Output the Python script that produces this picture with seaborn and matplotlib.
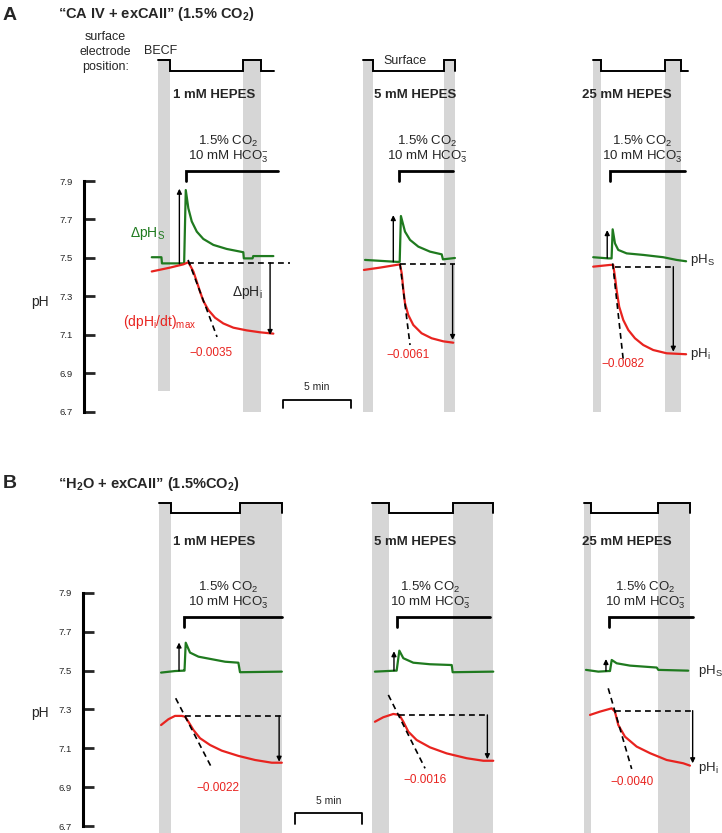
import seaborn as sns
import matplotlib.pyplot as plt

sns.set_style('white')
plt.rcParams['font.family'] = ['Liberation Sans', 'DejaVu Sans']
plt.rcParams['mathtext.fontset'] = 'custom'
plt.rcParams['mathtext.rm'] = 'Liberation Sans'
plt.rcParams['mathtext.it'] = 'Liberation Sans:italic'
plt.rcParams['mathtext.bf'] = 'Liberation Sans:bold'

GREEN = '#1f7a1f'
RED = '#e8231f'
GREY = '#d6d6d6'

hepes = ['1 mM HEPES', '5 mM HEPES', '25 mM HEPES']
ph_ticks = [6.7, 6.9, 7.1, 7.3, 7.5, 7.7, 7.9]
scale_min = 5

# ---------------- panel A: "CA IV + exCAII" ----------------
# times in min from the first grey bar of each recording
a_rates = ['\u22120.0035', '\u22120.0061', '\u22120.0082']
a_bars = [[(0, 0.88), (6.25, 7.57)], [(0, 0.74), (5.96, 6.76)], [(0, 0.59), (5.29, 6.47)]]
a_elec_end = [8.53, 6.76, 6.99]
a_co2_on = [2.06, 2.65, 1.25]
a_co2_off = [8.82, 6.62, 6.76]
a_phs_t = [[-0.46, 0.25, 0.29, 1.92, 2.04, 2.23, 2.48, 2.85, 3.33, 4.07, 5.05, 6.27, 6.31, 6.95, 7.0, 8.48],
           [0.15, 2.48, 2.70, 2.79, 3.09, 3.46, 4.07, 4.93, 5.79, 5.88, 6.76],
           [0.02, 1.13, 1.37, 1.45, 1.62, 1.86, 2.48, 3.70, 5.17, 6.15, 6.85]]
a_phs = [[7.504, 7.504, 7.472, 7.472, 7.853, 7.758, 7.69, 7.637, 7.599, 7.568, 7.547, 7.53, 7.498, 7.498, 7.51, 7.51],
         [7.49, 7.48, 7.48, 7.718, 7.637, 7.594, 7.559, 7.533, 7.519, 7.493, 7.50],
         [7.504, 7.498, 7.498, 7.649, 7.576, 7.542, 7.524, 7.516, 7.504, 7.49, 7.483]]
a_phi_t = [[-0.46, 0.88, 1.86, 2.23, 2.60, 2.85, 3.09, 3.33, 3.70, 4.19, 4.80, 5.54, 6.52, 7.50, 8.48],
           [0.07, 1.25, 2.72, 2.85, 2.97, 3.09, 3.33, 3.70, 4.31, 5.05, 5.91, 6.64],
           [0.02, 1.25, 1.49, 1.62, 1.74, 1.93, 2.23, 2.60, 3.09, 3.70, 4.43, 5.42, 6.85]]
a_phi = [[7.43, 7.45, 7.467, 7.478, 7.43, 7.377, 7.325, 7.277, 7.23, 7.19, 7.16, 7.138, 7.124, 7.114, 7.107],
         [7.438, 7.45, 7.467, 7.42, 7.334, 7.265, 7.204, 7.152, 7.109, 7.083, 7.067, 7.06],
         [7.455, 7.464, 7.464, 7.403, 7.334, 7.247, 7.178, 7.126, 7.083, 7.048, 7.022, 7.005, 7.0]]
a_base = [(2.21, 9.70, 7.475), (2.72, 6.76, 7.467), (1.62, 5.91, 7.455)]
a_slope = [((2.21, 7.49), (4.34, 7.09)), ((2.72, 7.47), (3.46, 7.048)), ((1.45, 7.472), (2.23, 6.97))]
a_dphs = [(1.57, 7.47, 7.86), (2.23, 7.48, 7.723), (1.05, 7.50, 7.645)]
a_dphi = [(8.24, 7.475, 7.10), (6.59, 7.467, 7.074), (5.91, 7.455, 7.013)]

# ---------------- panel B: "H2O + exCAII" ----------------
b_rates = ['\u22120.0022', '\u22120.0016', '\u22120.0040']
b_bars = [[(0, 0.90), (6.04, 9.18)], [(0, 1.27), (6.04, 9.03)], [(0, 0.52), (5.52, 7.91)]]
b_elec_end = [9.18, 9.03, 7.91]
b_co2_on = [1.87, 1.87, 1.87]
b_co2_off = [9.18, 8.81, 8.13]
b_phs_t = [[0.15, 1.19, 1.82, 1.90, 1.99, 2.31, 2.94, 3.93, 4.93, 5.92, 6.04, 9.16],
           [0.22, 1.72, 1.84, 2.04, 2.34, 3.08, 4.33, 5.95, 6.02, 9.05],
           [0.15, 1.07, 1.81, 1.94, 2.07, 2.44, 3.43, 5.43, 5.55, 7.78]]
b_phs = [[7.49, 7.498, 7.50, 7.50, 7.644, 7.593, 7.572, 7.559, 7.546, 7.541, 7.492, 7.495],
         [7.495, 7.50, 7.50, 7.603, 7.564, 7.541, 7.533, 7.529, 7.492, 7.495],
         [7.504, 7.495, 7.498, 7.498, 7.555, 7.538, 7.526, 7.516, 7.504, 7.50]]
b_phi_t = [[0.15, 0.70, 1.19, 1.69, 1.94, 2.19, 2.56, 3.06, 3.81, 4.68, 5.92, 7.16, 8.41, 9.16],
           [0.22, 0.84, 1.59, 2.04, 2.34, 2.71, 3.33, 4.33, 5.57, 7.07, 8.31, 9.05],
           [0.45, 1.19, 2.07, 2.31, 2.56, 3.06, 3.93, 4.93, 6.17, 7.41, 7.91]]
b_phi = [[7.22, 7.25, 7.267, 7.267, 7.263, 7.237, 7.195, 7.152, 7.117, 7.088, 7.061, 7.04, 7.026, 7.026],
         [7.237, 7.26, 7.277, 7.272, 7.237, 7.186, 7.143, 7.105, 7.074, 7.049, 7.036, 7.036],
         [7.272, 7.289, 7.306, 7.289, 7.22, 7.16, 7.109, 7.075, 7.04, 7.023, 7.011]]
b_base = [(1.94, 9.18, 7.267), (2.04, 8.73, 7.272), (2.31, 8.28, 7.294)]
b_slope = [((1.24, 7.358), (3.88, 7.006)), ((1.22, 7.375), (3.96, 6.997)), ((1.81, 7.409), (3.56, 6.994))]
b_dphs = [(1.49, 7.50, 7.645), (1.64, 7.50, 7.60), (1.64, 7.498, 7.56)]
b_dphi = [(8.96, 7.267, 7.031), (8.61, 7.272, 7.044), (8.11, 7.294, 7.023)]

# ---------------- layout ----------------
fig = plt.figure(figsize=(7.22, 8.33), dpi=100)

panels = [
    dict(rect=[0, 1 - 420 / 833, 1, 420 / 833], xlim=(0, 53.09), ylim=(6.6584, 8.8403),
         off=[11.62, 26.69, 43.60], bars=a_bars, bar_bottom=[[6.81, 6.7], [6.7, 6.7], [6.7, 6.7]],
         top=8.529, elec_lo=8.47, br_hi=7.952, br_lo=7.90, hep_y=8.347, co2_y=(8.103, 8.025),
         hep_x=[4.12, 3.82, 2.5], co2_x=[5.15, 4.71, 3.60], elec_end=a_elec_end,
         co2_on=a_co2_on, co2_off=a_co2_off, phs_t=a_phs_t, phs=a_phs, phi_t=a_phi_t, phi=a_phi,
         base=a_base, slope=a_slope, dphs=a_dphs, dphi=a_dphi, rates=a_rates,
         rate_xy=[(3.90, 7.007), (3.31, 6.996), (2.21, 6.95)],
         spine_x=6.18, ph_lab=(2.94, 7.27), scale=(20.81, 6.762, 6.72, 6.83),
         lab_x=50.74, phs_lab=7.49, phi_lab=7.0),
    dict(rect=[0, 0, 1, 413 / 833], xlim=(0, 53.88), ylim=(6.664, 8.7908),
         off=[11.87, 27.76, 43.58], bars=b_bars, bar_bottom=[[6.664, 6.664]] * 3,
         top=8.363, elec_lo=8.311, br_hi=7.776, br_lo=7.725, hep_y=8.163, co2_y=(7.926, 7.849),
         hep_x=[4.10, 3.21, 3.21], co2_x=[5.15, 4.33, 4.55], elec_end=b_elec_end,
         co2_on=b_co2_on, co2_off=b_co2_off, phs_t=b_phs_t, phs=b_phs, phi_t=b_phi_t, phi=b_phi,
         base=b_base, slope=b_slope, dphs=b_dphs, dphi=b_dphi, rates=b_rates,
         rate_xy=[(4.40, 6.896), (3.96, 6.937), (3.58, 6.927)],
         spine_x=6.19, ph_lab=(2.99, 7.28), scale=(22.01, 6.767, 6.71, 6.83),
         lab_x=52.09, phs_lab=7.50, phi_lab=7.0),
]

axes = []
for p in panels:
    ax = fig.add_axes(p['rect'])
    ax.set_xlim(*p['xlim'])
    ax.set_ylim(*p['ylim'])
    ax.patch.set_alpha(0)
    for s in ['top', 'right', 'bottom']:
        ax.spines[s].set_visible(False)
    ax.spines['left'].set_position(('data', p['spine_x']))
    ax.spines['left'].set_bounds(6.7, 7.9)
    ax.spines['left'].set_linewidth(2.2)
    ax.spines['left'].set_color('black')
    ax.set_xticks([])
    ax.set_yticks(ph_ticks)
    ax.set_yticklabels([f'{v:.1f}' for v in ph_ticks])
    ax.tick_params(axis='y', direction='in', length=8, width=2, labelsize=6.8, pad=8, left=True)
    ax.text(*p['ph_lab'], 'pH', fontsize=10, ha='center', va='center')

    for i in range(3):
        o = p['off'][i]
        # grey bars (electrode at bulk ECF)
        for (b0, b1), bb in zip(p['bars'][i], p['bar_bottom'][i]):
            ax.fill_between([o + b0, o + b1], bb, p['top'], color=GREY, lw=0, zorder=0)
        # electrode position line
        (b0, b1), (b2, b3) = p['bars'][i]
        ex = [o + b0, o + b1, o + b1, o + b2, o + b2, o + b3, o + b3, o + p['elec_end'][i]]
        ey = [p['top'], p['top'], p['elec_lo'], p['elec_lo'], p['top'], p['top'], p['elec_lo'], p['elec_lo']]
        ax.plot(ex, ey, color='black', lw=1.4, solid_joinstyle='miter')
        ax.text(o + p['hep_x'][i], p['hep_y'], hepes[i], fontsize=9.5, fontweight='bold',
                ha='center', va='center')
        cx = o + p['co2_x'][i]
        ax.text(cx, p['co2_y'][0], '1.5% CO$_2$', fontsize=9.5, ha='center', va='center')
        ax.text(cx, p['co2_y'][1], '10 mM HCO$_3^{-}$', fontsize=9.5, ha='center', va='center')
        # CO2 bracket
        ax.plot([o + p['co2_on'][i], o + p['co2_on'][i], o + p['co2_off'][i]],
                [p['br_lo'], p['br_hi'], p['br_hi']], color='black', lw=2, solid_joinstyle='miter')
        # traces
        sns.lineplot(x=[o + t for t in p['phs_t'][i]], y=p['phs'][i], ax=ax, color=GREEN,
                     lw=1.6, sort=False, estimator=None)
        sns.lineplot(x=[o + t for t in p['phi_t'][i]], y=p['phi'][i], ax=ax, color=RED,
                     lw=1.6, sort=False, estimator=None)
        # baseline and max slope
        t0, t1, ph0 = p['base'][i]
        ax.plot([o + t0, o + t1], [ph0, ph0], color='black', lw=1.2, dashes=(3.5, 2.5))
        (s0, q0), (s1, q1) = p['slope'][i]
        ax.plot([o + s0, o + s1], [q0, q1], color='black', lw=1.2, dashes=(3.5, 2.5))
        # arrows
        for t, base, tip in [p['dphs'][i], p['dphi'][i]]:
            ax.annotate('', xy=(o + t, tip), xytext=(o + t, base),
                        arrowprops=dict(arrowstyle='-|>', lw=1, color='black',
                                        mutation_scale=7, shrinkA=0, shrinkB=0))
        rx, ry = p['rate_xy'][i]
        ax.text(o + rx, ry, p['rates'][i], color=RED, fontsize=8.5, ha='center', va='center')

    # scale bar
    sx, sy, sl, st = p['scale']
    ax.plot([sx, sx, sx + scale_min, sx + scale_min], [sl, sy, sy, sl], color='black', lw=1.3)
    ax.text(sx + scale_min / 2, st, f'{scale_min} min', fontsize=7.5, ha='center', va='center')
    ax.text(p['lab_x'], p['phs_lab'], 'pH$_\\mathrm{S}$', fontsize=9.5, ha='left', va='center')
    ax.text(p['lab_x'], p['phi_lab'], 'pH$_\\mathrm{i}$', fontsize=9.5, ha='left', va='center')
    axes.append(ax)

axA, axB = axes
axA.text(9.63, 8.57, 'surface\nelectrode\nposition:', fontsize=9, ha='right', va='center',
         multialignment='center', linespacing=1.35)
axA.text(10.59, 8.575, 'BECF', fontsize=9, ha='left', va='center')
axA.text(29.78, 8.523, 'Surface', fontsize=9, ha='center', va='center')
axA.text(12.13, 7.625, '\u0394pH$_\\mathrm{S}$', color=GREEN, fontsize=10, ha='right', va='center')
axA.text(18.16, 7.32, '\u0394pH$_\\mathrm{i}$', fontsize=10, ha='center', va='center')
axA.text(11.76, 7.17, '(dpH$_\\mathrm{i}$/dt)$_\\mathrm{max}$', color=RED, fontsize=10,
         ha='center', va='center')

fig.text(0.004, 1 - 15 / 833, 'A', fontsize=14, fontweight='bold', va='center')
fig.text(58 / 722, 1 - 14 / 833, '\u201cCA IV + exCAII\u201d (1.5% CO$_\\mathbf{2}$)',
         fontsize=10.5, fontweight='bold', va='center')
fig.text(0.004, 1 - 483 / 833, 'B', fontsize=14, fontweight='bold', va='center')
fig.text(58 / 722, 1 - 484 / 833, '\u201cH$_\\mathbf{2}$O + exCAII\u201d (1.5%CO$_\\mathbf{2}$)',
         fontsize=10.5, fontweight='bold', va='center')

fig.savefig('out.png', dpi=100)
